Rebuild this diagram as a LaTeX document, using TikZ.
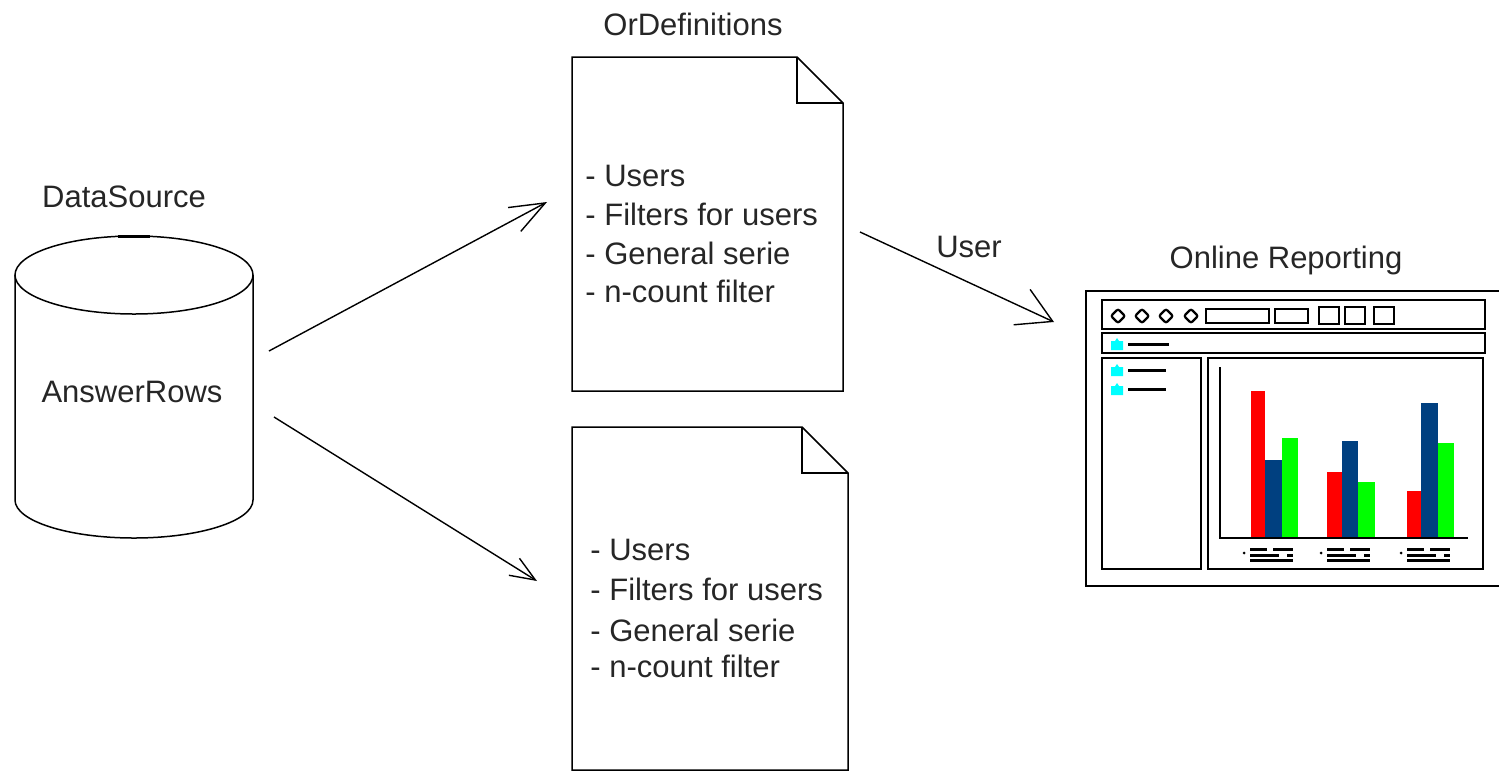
\documentclass[tikz,border=0pt]{standalone}
\usepackage{fontspec}
\setmainfont{Liberation Sans}
\usetikzlibrary{arrows.meta}
\definecolor{barblue}{RGB}{0,64,128}
\definecolor{barred}{RGB}{255,0,0}
\definecolor{bargreen}{RGB}{0,255,0}
\definecolor{iconcyan}{RGB}{0,255,255}
\tikzset{
  shapeline/.style={line width=0.75pt,line join=miter},
  screenline/.style={line width=1.1pt},
  flowarrow/.style 2 args={line width=0.7pt,-{Straight Barb[length=#1,width=#2,line width=0.7pt]}},
  label/.style={font=\fontsize{15.5}{18}\selectfont,inner sep=0pt,text=black!85},
  listitem/.style={label,anchor=west},
}
\begin{document}
\begin{tikzpicture}[x=0.5pt,y=0.5pt,yscale=-1,xscale=1]
\useasboundingbox (0,0) rectangle (1499,772);

%Cylinder
\draw [shapeline] (15,275) -- (15,500) arc [start angle=180,end angle=0,x radius=119,y radius=38] -- (253,275) ;
\draw [shapeline] (134,275) ellipse [x radius=119,y radius=39] ;
\draw [line width=1.5pt] (118,236) -- (150,236) ;

%Documents
\draw [shapeline] (797,57) -- (572,57) -- (572,391) -- (843,391) -- (843,103) -- cycle ;
\draw [shapeline] (797,57) -- (797,103) -- (843,103) ;
\draw [shapeline] (802,427) -- (572,427) -- (572,770) -- (848,770) -- (848,473) -- cycle ;
\draw [shapeline] (802,427) -- (802,473) -- (848,473) ;

%Straight Lines
\coordinate (srcA) at (269,351) ;
\coordinate (docA) at (547,202) ;
\coordinate (srcB) at (274,417) ;
\coordinate (docB) at (537,581) ;
\coordinate (docOut) at (860,232) ;
\coordinate (screenIn) at (1054,322) ;
\draw [flowarrow={17.5pt}{13.5pt}] (srcA) -- (docA) ;
\draw [flowarrow={12.5pt}{10pt}] (srcB) -- (docB) ;
\draw [flowarrow={17pt}{19.5pt}] (docOut) -- (screenIn) ;

%Screen
\draw [screenline] (1499,291) -- (1086,291) -- (1086,586) -- (1499,586) ;
\draw [screenline] (1102,300) rectangle (1485,329) ;
\draw [screenline] (1102,333) rectangle (1485,353) ;
\draw [screenline] (1102,358) rectangle (1201,569) ;
\draw [screenline] (1208,358) rectangle (1483,569) ;
\foreach \cx in {1118,1142,1166,1191}
  \draw [screenline,rounded corners=1pt] (\cx-7,316) -- (\cx,309) -- (\cx+7,316) -- (\cx,323) -- cycle ;
\draw [screenline] (1206,309) rectangle (1269,323) ;
\draw [screenline] (1275,309) rectangle (1308,323) ;
\foreach \sx in {1319,1345,1374}
  \draw [screenline] (\sx,307) rectangle (\sx+20,324) ;

%Tree icons
\foreach \iy/\lx in {340/1169,366/1166,385/1166} {
  \fill [iconcyan] (1111,\iy+1) -- (1115,\iy+1) -- (1117,\iy-2) -- (1119,\iy+1) -- (1123,\iy+1) -- (1123,\iy+10) -- (1111,\iy+10) -- cycle ;
  \draw [screenline] (1128,\iy+4.5) -- (\lx,\iy+4.5) ;
}

%Bars
\foreach \ax/\bx/\cx/\dx/\ra/\rb/\rc in {1251/1265/1282/1298/391/460/438,1327/1342/1358/1375/472/441/482,1407/1421/1438/1454/491/403/443} {
  \fill [barred] (\ax,\ra) rectangle (\bx,538) ;
  \fill [barblue] (\bx,\rb) rectangle (\cx,538) ;
  \fill [bargreen] (\cx,\rc) rectangle (\dx,538) ;
}
\draw [screenline] (1220,367) -- (1220,538) -- (1468,538) ;

%Bar legends
\foreach \lx in {1250,1327,1407} {
  \fill (\lx-6,553) circle [radius=1.5] ;
  \draw [line width=1.5pt] (\lx,549) -- (\lx+17,549) (\lx+23,549) -- (\lx+43,549) ;
  \draw [line width=1.5pt] (\lx,555) -- (\lx+29,555) (\lx+37,555) -- (\lx+43,555) ;
  \draw [line width=1.5pt] (\lx,560) -- (\lx+43,560) ;
}

% Text Node
\node [label] (dataSource) at (124,197) {DataSource} ;
\node [label] (answerRows) at (132,392) {AnswerRows} ;
\node [label] (orDefinitions) at (693,24) {OrDefinitions} ;
\node [label] (userLabel) at (969,247) {User} ;
\node [label] (onlineReporting) at (1286,260) {Online Reporting} ;
% Text Node
\node [listitem] (usersA) at (585,176) {- Users} ;
\node [listitem] (filtersA) at (585,214) {- Filters for users} ;
\node [listitem] (serieA) at (585,253) {- General serie} ;
\node [listitem] (countA) at (585,291) {- n-count filter} ;
% Text Node
\node [listitem] (usersB) at (590,550) {- Users} ;
\node [listitem] (filtersB) at (590,589) {- Filters for users} ;
\node [listitem] (serieB) at (590,630) {- General serie} ;
\node [listitem] (countB) at (590,666) {- n-count filter} ;

\end{tikzpicture}
\end{document}
